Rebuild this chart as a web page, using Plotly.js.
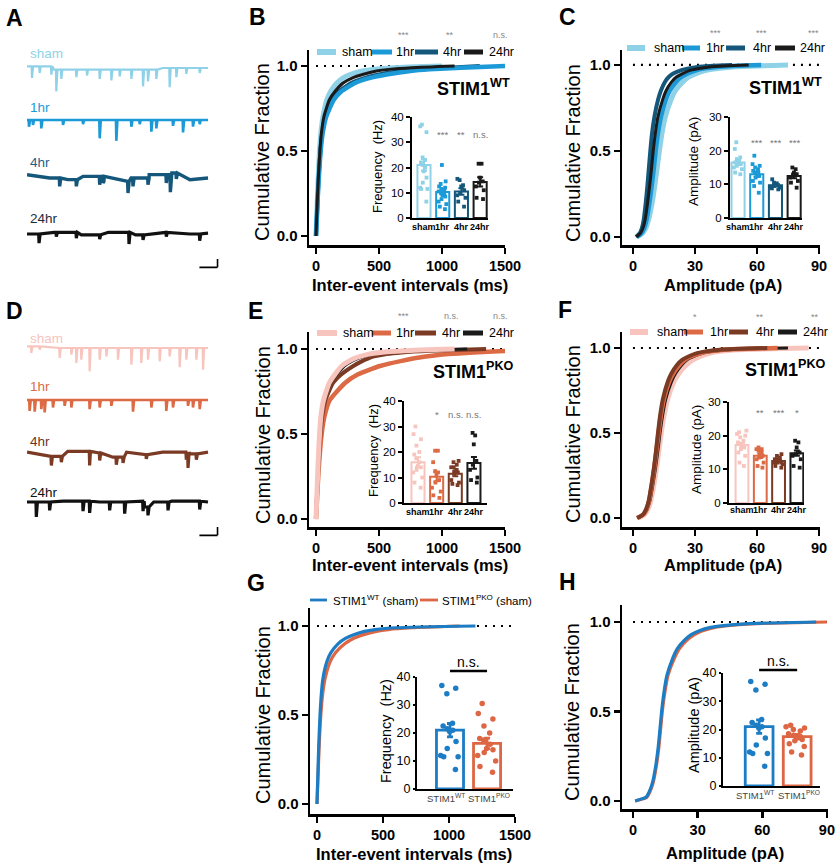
<!DOCTYPE html>
<html><head><meta charset="utf-8">
<script src="https://cdn.plot.ly/plotly-3.0.1.min.js"></script>
<style>html,body{margin:0;padding:0;background:#fff;}#chart{width:837px;height:865px;}</style>
</head><body><div id="chart"></div>
<script>
// ================= DATA =================
const groups = ['sham', '1hr', '4hr', '24hr'];
const cdfLevels = [0, 0.1, 0.2, 0.3, 0.4, 0.5, 0.6, 0.7, 0.8, 0.85, 0.9, 0.93, 0.95, 0.97, 0.98, 0.99, 1.0];
const ampLevels = [0, 0.02, 0.05, 0.1, 0.2, 0.3, 0.4, 0.5, 0.6, 0.7, 0.8, 0.85, 0.9, 0.93, 0.95, 0.97, 0.98, 0.99, 1.0];
const iviTicks = [0, 500, 1000, 1500];
const ampTicks = [0, 30, 60, 90];

// B: STIM1 WT inter-event intervals (ms) at cdfLevels
const wtIEI_sham = [0, 5, 10, 15, 21, 28, 38, 55, 85, 115, 165, 215, 270, 360, 450, 620, 1000];
const wtIEI_1hr  = [0, 6, 12, 19, 27, 37, 52, 80, 140, 200, 310, 430, 560, 750, 900, 1150, 1500];
const wtIEI_4hr  = [0, 6, 12, 18, 26, 35, 49, 74, 125, 180, 280, 390, 500, 680, 820, 1050, 1300];
const wtIEI_24hr = [0, 5, 10, 16, 23, 31, 42, 62, 105, 150, 215, 290, 370, 480, 580, 760, 1100];
// C: STIM1 WT amplitude (pA) at ampLevels
const wtAmp_sham = [2, 4.5, 6.2, 7.6, 9.3, 10.6, 11.7, 12.8, 14, 15.7, 18.5, 20.5, 24, 27, 30.5, 36, 41, 50, 75];
const wtAmp_1hr  = [1.8, 4, 5.4, 6.6, 8, 9.1, 10.1, 11, 12.1, 13.6, 16, 17.8, 20.8, 23.5, 26.5, 31, 35, 42, 62];
const wtAmp_4hr  = [1.5, 3.2, 4.3, 5.2, 6.2, 7, 7.7, 8.4, 9.2, 10.4, 12.2, 13.5, 15.4, 17.3, 19.5, 23.5, 27, 32, 48];
const wtAmp_24hr = [1.6, 3.5, 4.8, 5.9, 7.1, 8.1, 9, 9.8, 10.8, 12.1, 14.4, 16, 18.6, 21, 24, 28, 32, 38, 56];
// E: STIM1 PKO inter-event intervals (ms)
const pkoIEI_sham = [0, 5, 10, 15, 21, 28, 38, 60, 105, 150, 204, 265, 323, 420, 510, 700, 1100];
const pkoIEI_1hr  = [0, 7, 14, 22, 32, 45, 66, 110, 230, 330, 508, 680, 820, 1050, 1250, 1550, 2100];
const pkoIEI_4hr  = [0, 6, 12, 18, 26, 35, 48, 75, 135, 200, 296, 370, 430, 560, 680, 900, 1350];
const pkoIEI_24hr = [0, 5, 11, 16, 23, 30, 41, 64, 115, 165, 225, 290, 350, 450, 540, 740, 1200];
// F: STIM1 PKO amplitude (pA)
const pkoAmp_sham = [2.5, 5.5, 7.2, 8.6, 10.2, 11.5, 12.6, 13.7, 15, 16.8, 19.8, 22.2, 25.8, 29, 32.5, 37.5, 42, 50, 85];
const pkoAmp_1hr  = [2, 5, 6.5, 7.8, 9.2, 10.4, 11.4, 12.4, 13.5, 15, 17.5, 19.5, 22.5, 25, 28, 33, 37, 44, 70];
const pkoAmp_4hr  = [2, 4.8, 6.3, 7.6, 9, 10.2, 11.2, 12.1, 13.1, 14.5, 16.8, 18.6, 21.3, 23.8, 26.8, 31, 35, 42, 65];
const pkoAmp_24hr = [2.2, 5.2, 6.8, 8.2, 9.7, 11, 12.1, 13.1, 14.3, 15.9, 18.6, 20.6, 23.6, 26.2, 29.5, 34, 39, 46, 75];
// G / H: sham comparison
const gIEI_WT  = [0, 4, 8, 12, 17, 23, 31, 44, 75, 105, 159, 215, 273, 360, 440, 600, 1200];
const gIEI_PKO = [0, 5, 10, 15, 21, 29, 40, 60, 100, 140, 210, 275, 348, 450, 540, 720, 1080];
const hAmp_WT  = [1, 6, 7.5, 9, 10.6, 11.7, 12.5, 13.3, 14.3, 15.7, 18.5, 20.5, 24, 27, 30.5, 36, 42, 52, 85];
const hAmp_PKO = [1, 6.3, 7.8, 9.3, 10.9, 12, 12.8, 13.6, 14.7, 16.2, 19.3, 21.5, 25.2, 28.5, 32, 38, 44, 55, 90];

// Insets: means, SEM, individual cells
const wtFreqMean = [21, 10.3, 10.5, 14.3];
const wtFreqSem  = [2.3, 1.0, 1.3, 1.8];
const wtFreq_sham = [37, 36.3, 34, 24, 23, 22, 21, 20, 18.5, 16, 14, 12, 11.5, 11.5, 6.5];
const wtFreq_1hr  = [21, 14.5, 13.5, 12.5, 12, 11.5, 11, 10.5, 10, 9.5, 9, 8.5, 7.5, 6.5, 5.5, 4.5, 3.5];
const wtFreq_4hr  = [15.5, 15, 13, 12.5, 11, 10, 9, 8, 6.5, 4.5];
const wtFreq_24hr = [21.5, 21.5, 16, 14.5, 14, 12.5, 11, 8, 7.5];

const wtAmpMean = [16.5, 13, 9.7, 12.5];
const wtAmpSem  = [0.7, 0.8, 0.3, 0.7];
const wtAmpPts_sham = [22.5, 20.5, 18, 17.5, 17, 16.5, 16.5, 16, 16, 15.5, 15, 14.5, 13.5, 13, 16];
const wtAmpPts_1hr  = [18.5, 16, 15.5, 15, 14.5, 14, 13.5, 13.5, 13, 12.5, 12, 11, 10.5, 9.5, 7.5];
const wtAmpPts_4hr  = [11.5, 10.5, 10.3, 10, 9.8, 9.5, 9.3, 9, 8.8, 8.5];
const wtAmpPts_24hr = [15, 14.5, 13.5, 13, 12.5, 12, 11, 10.5, 9];

const pkoFreqMean = [16, 10.3, 11.5, 15.7];
const pkoFreqSem  = [1.9, 1.8, 1.0, 2.3];
const pkoFreq_sham = [30, 27, 25, 22.5, 20, 19, 17.5, 16, 14.5, 14, 13, 12, 10, 8, 6];
const pkoFreq_1hr  = [20.5, 20.5, 16, 12.5, 12, 11, 9, 8, 6, 4.5, 3, 2];
const pkoFreq_4hr  = [16.5, 16, 15, 14, 14, 13, 12.5, 12, 11.5, 9, 8, 7.5, 7];
const pkoFreq_24hr = [27.5, 26.5, 23, 16.5, 15, 13, 10, 9, 8];

const pkoAmpMean = [17.2, 14, 12.5, 14.8];
const pkoAmpSem  = [0.7, 0.6, 0.4, 0.8];
const pkoAmpPts_sham = [21.5, 21, 20.5, 20, 19.5, 18.5, 18, 17.5, 17, 16.5, 16, 15, 14, 12, 11, 17];
const pkoAmpPts_1hr  = [16.5, 16, 15.5, 15, 14, 13.5, 13, 12, 11, 10.5, 16, 14.5];
const pkoAmpPts_4hr  = [14.5, 14, 13.5, 13, 12.5, 12.5, 12, 12, 11.5, 11, 10.5, 13, 12];
const pkoAmpPts_24hr = [18.5, 18, 16.5, 15, 14.5, 14, 13, 11, 10.5];

const genotypes = ['WT', 'PKO'];
const genotypeLabels = ['STIM1<sup>WT</sup>', 'STIM1<sup>PKO</sup>'];
const gFreqMean = [21, 16.3];
const gFreqSem  = [2.4, 1.9];
const gFreqPts_WT  = [37, 36, 34, 23.5, 22.5, 21.5, 21, 20.5, 17, 14.5, 12, 11.5, 11.5, 7];
const gFreqPts_PKO = [30.5, 27, 25, 22.5, 20, 18, 17.5, 16, 14, 13, 12, 10, 8, 6, 14.5];
const hAmpMean = [21, 17.5];
const hAmpSem  = [2.4, 0.8];
const hAmpPts_WT  = [37, 36, 34, 23.5, 22.5, 21.5, 21, 20.5, 17, 14.5, 12, 11.5, 11.5, 7];
const hAmpPts_PKO = [21.5, 21, 20.5, 20, 19.5, 18.5, 18, 17.5, 17, 16.5, 16, 15, 14, 12, 11];

// Example traces: event times (ms), event amplitudes (pA), baseline knots
const trA_sham_t = [55, 140, 269, 324, 379, 545, 663, 803, 932, 1024, 1153, 1282, 1337, 1429, 1576, 1650, 1760, 1908];
const trA_sham_a = [-14, -8, -10, -26, -11, -9, -7, -11, -13, -8, -11, -20, -14, -11, -23, -11, -7, -6];
const trA_sham_bt = [0, 250, 300, 1100, 1500, 2000];
const trA_sham_bv = [2, 2, -2, -2, 0, 0];
const trA_1hr_t = [22, 66, 158, 398, 619, 803, 987, 1153, 1245, 1374, 1429, 1613, 1724, 1834, 1908];
const trA_1hr_a = [-8, -6, -10, -6, -5, -22, -25, -8, -5, -14, -10, -7, -15, -8, -5];
const trA_1hr_bt = [0, 2000];
const trA_1hr_bv = [0, 0];
const trA_4hr_t = [361, 545, 803, 840, 1116, 1171, 1337, 1539, 1584, 1650];
const trA_4hr_a = [-10, -8, -10, -8, -14, -10, -8, -10, -21, -7];
const trA_4hr_bt = [0, 250, 450, 620, 850, 1150, 1350, 1600, 1800, 2000];
const trA_4hr_bv = [4, 0, -2, 2, -4, 0, 4, 6, -2, 0];
const trA_24hr_t = [133, 324, 545, 803, 1127, 1282, 1539, 1908];
const trA_24hr_a = [-11, -5, -7, -5, -14, -6, -5, -8];
const trA_24hr_bt = [0, 300, 600, 900, 1200, 1500, 1800, 2000];
const trA_24hr_bv = [0, 2, -1, 2, -1, 2, 0, 1];

const trD_sham_t = [48, 140, 361, 490, 545, 600, 692, 803, 877, 1005, 1153, 1263, 1337, 1466, 1576, 1687, 1760, 1871, 1945];
const trD_sham_a = [-8, -4, -12, -8, -18, -14, -28, -14, -10, -14, -20, -18, -14, -16, -10, -23, -14, -14, -26];
const trD_sham_bt = [0, 300, 2000];
const trD_sham_bv = [2, 0, 0];
const trD_1hr_t = [29, 85, 158, 195, 287, 416, 490, 692, 803, 932, 1171, 1374, 1539, 1613, 1779, 1834, 1908];
const trD_1hr_a = [-13, -14, -11, -15, -9, -7, -9, -11, -9, -7, -14, -9, -13, -9, -7, -9, -11];
const trD_1hr_bt = [0, 2000];
const trD_1hr_bv = [0, 0];
const trD_4hr_t = [269, 379, 692, 803, 987, 1061, 1318, 1760, 1779, 1871];
const trD_4hr_a = [-11, -7, -17, -9, -9, -7, -5, -9, -19, -7];
const trD_4hr_bt = [0, 250, 450, 700, 950, 1100, 1300, 1500, 1800, 2000];
const trD_4hr_bv = [1, -4, 2, 0, -5, 1, -2, 1, -1, 1];
const trD_24hr_t = [103, 250, 619, 692, 913, 1079, 1282, 1337, 1558, 1908];
const trD_24hr_a = [-18, -10, -12, -14, -10, -14, -12, -10, -10, -10];
const trD_24hr_bt = [0, 400, 800, 1200, 1300, 1400, 1600, 2000];
const trD_24hr_bv = [0, 1, 0, 1, -6, 0, 1, 0];

const scaleBarMs = 200;
const scaleBarPA = 10;

// ================= STYLE / LAYOUT =================
const W = 837, H = 865;
const fx = p => p / W;
const fy = p => 1 - p / H;
const FONT = 'Liberation Sans, Arial, sans-serif';
const C = {
  wt: ['#8fd2e8', '#1b9ad7', '#14577b', '#1a1a1a'],
  pko: ['#f7c5bd', '#dc6a44', '#7b3a24', '#1a1a1a'],
  gWT: '#1c7cc4', gPKO: '#dd6644'
};

const data = [];
const annotations = [];
const shapes = [];
const layout = {
  width: W, height: H, margin: {l: 0, r: 0, t: 0, b: 0},
  showlegend: false, paper_bgcolor: '#fff', plot_bgcolor: 'rgba(0,0,0,0)',
  barmode: 'overlay', boxmode: 'overlay',
  font: {family: FONT, color: '#000'},
  annotations: annotations, shapes: shapes
};
let axN = 0;
function addAxes(xcfg, ycfg) {
  axN++;
  const s = axN === 1 ? '' : String(axN);
  layout['xaxis' + s] = Object.assign({anchor: 'y' + s, fixedrange: true}, xcfg);
  layout['yaxis' + s] = Object.assign({anchor: 'x' + s, fixedrange: true}, ycfg);
  return {x: 'x' + s, y: 'y' + s};
}
function text(t, px, py, size, opts) {
  annotations.push(Object.assign({
    text: t, xref: 'paper', yref: 'paper', x: fx(px), y: fy(py), showarrow: false,
    xanchor: 'center', yanchor: 'middle', font: {family: FONT, size: size, color: '#000'}
  }, opts || {}));
}

function cdfPanel(p) {
  const ax = addAxes({
    domain: [fx(p.xpx[0]), fx(p.xpx[1])], range: p.xrange, showline: true, linewidth: 2.5, linecolor: '#000',
    ticks: 'outside', ticklen: 6, tickwidth: 2.5, tickcolor: '#000', showgrid: false, zeroline: false, tickangle: 0,
    tickvals: p.xtick, ticktext: p.xtick.map(String), tickfont: {family: FONT, size: 14.5, weight: 'bold', color: '#000'}
  }, {
    domain: [fy(p.ypx[1]), fy(p.ypx[0])], range: p.yrange, showline: true, linewidth: 2.5, linecolor: '#000',
    ticks: 'outside', ticklen: 6, tickwidth: 2.5, tickcolor: '#000', showgrid: false, zeroline: false,
    tickvals: [0, 0.5, 1], ticktext: ['0.0', '0.5', '1.0'], tickfont: {family: FONT, size: 15, weight: 'bold', color: '#000'}
  });
  data.push({type: 'scatter', mode: 'lines', x: [p.xtick[0], p.xtick[p.xtick.length - 1]], y: [1, 1],
    xaxis: ax.x, yaxis: ax.y, line: {color: '#000', width: 2.2, dash: '2px,6px'}, hoverinfo: 'skip'});
  p.series.forEach(s => data.push({type: 'scatter', mode: 'lines', x: s.x, y: p.levels,
    xaxis: ax.x, yaxis: ax.y, line: {color: s.color, width: s.width, shape: 'spline', smoothing: 0.5}, hoverinfo: 'skip'}));
  return ax;
}

function insetPanel(p) {
  const ax = addAxes({
    domain: [fx(p.xpx[0]), fx(p.xpx[1])], type: 'category', categoryorder: 'array', categoryarray: p.cats,
    range: p.xrange, showline: true, linewidth: 2, linecolor: '#000', ticks: '', showgrid: false, zeroline: false,
    showticklabels: false
  }, {
    domain: [fy(p.ypx[1]), fy(p.ypx[0])], range: [0, p.ytick[p.ytick.length - 1]], showline: true, linewidth: 2,
    linecolor: '#000', ticks: 'outside', ticklen: p.ticklen, tickwidth: 2, tickcolor: '#000', showgrid: false, zeroline: false,
    tickvals: p.ytick, tickfont: {family: FONT, size: p.tickSize, color: '#000'}
  });
  // category labels, positioned through the category axis
  p.catText.forEach((t, i) => {
    annotations.push({text: t, xref: ax.x, yref: 'paper', x: i + (p.catShift ? p.catShift[i] : 0), y: fy(p.catY),
      showarrow: false, xanchor: 'center', yanchor: 'middle',
      font: {family: FONT, size: p.catSize, weight: p.catWeight, color: p.catColor}});
  });
  p.cats.forEach((c, i) => {
    data.push({type: 'bar', x: [c], y: [p.means[i]], width: p.barWidth, xaxis: ax.x, yaxis: ax.y, textposition: 'none',
      marker: {color: '#ffffff', line: {color: p.colors[i], width: p.barLine}},
      error_y: {type: 'data', array: [p.sems[i]], visible: true, color: p.colors[i], thickness: p.barLine, width: 3},
      hoverinfo: 'skip'});
  });
  p.cats.forEach((c, i) => {
    data.push({type: 'box', x: p.pts[i].map(() => c), y: p.pts[i], xaxis: ax.x, yaxis: ax.y,
      boxpoints: 'all', jitter: p.jitter, pointpos: 0, width: p.barWidth,
      marker: {color: p.colors[i], size: p.msize, symbol: p.symbol},
      line: {width: 0, color: 'rgba(0,0,0,0)'}, fillcolor: 'rgba(0,0,0,0)', hoverinfo: 'skip'});
  });
  if (p.stars) {
    p.stars.forEach((s, i) => {
      if (!s) return;
      annotations.push({text: s, xref: ax.x, yref: 'paper', x: i, y: fy(p.starY), showarrow: false,
        xanchor: 'center', yanchor: 'middle', font: {family: FONT, size: 9.5, color: '#777'}});
    });
  }
  if (p.bracketY) {
    shapes.push({type: 'line', xref: ax.x, yref: 'paper', x0: 0, x1: 1, y0: fy(p.bracketY), y1: fy(p.bracketY),
      line: {color: '#000', width: 2.5}});
    annotations.push({text: 'n.s.', xref: ax.x, yref: 'paper', x: 0.5, y: fy(p.bracketY - 9), showarrow: false,
      xanchor: 'center', yanchor: 'middle', font: {family: FONT, size: 14, color: '#000'}});
  }
  return ax;
}

function buildTrace(t, a, bt, bv) {
  const pts = [];
  bt.forEach((tt, i) => pts.push([tt, bv[i]]));
  t.forEach((tt, i) => {
    let b = bv[0];
    for (let k = 0; k < bt.length; k++) { if (bt[k] <= tt) b = bv[k]; }
    pts.push([tt - 4, b], [tt, b + a[i]], [tt + 12, b]);
  });
  pts.sort((p, q) => p[0] - q[0]);
  return {x: pts.map(p => p[0]), y: pts.map(p => p[1])};
}
const PX_PER_PA = 0.8333;
function traceAxis(basePx, tr, color, width, withScale) {
  const ax = addAxes({domain: [fx(27), fx(221.6)], range: [0, 2150], visible: false},
    {domain: [fy(basePx + 50 * PX_PER_PA), fy(basePx - 10 * PX_PER_PA)], range: [-50, 10], visible: false});
  data.push({type: 'scatter', mode: 'lines', x: tr.x, y: tr.y, xaxis: ax.x, yaxis: ax.y,
    line: {color: color, width: width}, hoverinfo: 'skip'});
  if (withScale) {
    data.push({type: 'scatter', mode: 'lines', x: [1905, 1905 + scaleBarMs], y: [-40, -40], xaxis: ax.x, yaxis: ax.y,
      line: {color: '#000', width: 1.6}, hoverinfo: 'skip'});
    data.push({type: 'scatter', mode: 'lines', x: [1905 + scaleBarMs, 1905 + scaleBarMs], y: [-40, -40 + scaleBarPA],
      xaxis: ax.x, yaxis: ax.y, line: {color: '#000', width: 1.6}, hoverinfo: 'skip'});
  }
}

// ---------- Panels A & D: traces ----------
traceAxis(68, buildTrace(trA_sham_t, trA_sham_a, trA_sham_bt, trA_sham_bv), C.wt[0], 2.2);
traceAxis(120, buildTrace(trA_1hr_t, trA_1hr_a, trA_1hr_bt, trA_1hr_bv), C.wt[1], 2.6);
traceAxis(178, buildTrace(trA_4hr_t, trA_4hr_a, trA_4hr_bt, trA_4hr_bv), C.wt[2], 3.4);
traceAxis(234, buildTrace(trA_24hr_t, trA_24hr_a, trA_24hr_bt, trA_24hr_bv), '#111', 3.2, true);
traceAxis(348, buildTrace(trD_sham_t, trD_sham_a, trD_sham_bt, trD_sham_bv), C.pko[0], 2.2);
traceAxis(400, buildTrace(trD_1hr_t, trD_1hr_a, trD_1hr_bt, trD_1hr_bv), C.pko[1], 2.6);
traceAxis(453, buildTrace(trD_4hr_t, trD_4hr_a, trD_4hr_bt, trD_4hr_bv), C.pko[2], 3.2);
traceAxis(502, buildTrace(trD_24hr_t, trD_24hr_a, trD_24hr_bt, trD_24hr_bv), '#111', 3.2, true);

const traceLabelColorsA = [C.wt[0], C.wt[1], '#1d5f8a', '#1d2b3a'];
const traceLabelColorsD = [C.pko[0], C.pko[1], '#6b3322', '#111'];
[53, 107, 163, 218].forEach((py, i) => text(groups[i], 28, py, 13.5, {xanchor: 'left', font: {family: FONT, size: 13.5, color: traceLabelColorsA[i]}}));
[338, 387, 442, 492].forEach((py, i) => text(groups[i], 28, py, 13.5, {xanchor: 'left', font: {family: FONT, size: 13.5, color: traceLabelColorsD[i]}}));

// ---------- CDF panels ----------
cdfPanel({xpx: [309, 505], ypx: [50, 245], xrange: [-55.6, 1500], yrange: [-0.053, 1.094], xtick: iviTicks, levels: cdfLevels,
  series: [{x: wtIEI_sham, color: C.wt[0], width: 5}, {x: wtIEI_4hr, color: C.wt[2], width: 4}, {x: wtIEI_1hr, color: C.wt[1], width: 4.5}, {x: wtIEI_24hr, color: C.wt[3], width: 3}]});
cdfPanel({xpx: [622, 820], ypx: [50, 245], xrange: [-5.3, 90.5], yrange: [-0.047, 1.087], xtick: ampTicks, levels: ampLevels,
  series: [{x: wtAmp_sham, color: C.wt[0], width: 5}, {x: wtAmp_1hr, color: C.wt[1], width: 4.5}, {x: wtAmp_4hr, color: C.wt[2], width: 4}, {x: wtAmp_24hr, color: C.wt[3], width: 3}]});
cdfPanel({xpx: [309, 505], ypx: [332, 527], xrange: [-55.6, 1500], yrange: [-0.047, 1.1], xtick: iviTicks, levels: cdfLevels,
  series: [{x: pkoIEI_1hr, color: C.pko[1], width: 4.5}, {x: pkoIEI_4hr, color: C.pko[2], width: 4}, {x: pkoIEI_24hr, color: C.pko[3], width: 3}, {x: pkoIEI_sham, color: C.pko[0], width: 5}]});
cdfPanel({xpx: [622, 820], ypx: [332, 527], xrange: [-5.3, 90.5], yrange: [-0.053, 1.094], xtick: ampTicks, levels: ampLevels,
  series: [{x: pkoAmp_sham, color: C.pko[0], width: 5}, {x: pkoAmp_24hr, color: C.pko[3], width: 3}, {x: pkoAmp_1hr, color: C.pko[1], width: 4.5}, {x: pkoAmp_4hr, color: C.pko[2], width: 4}]});
cdfPanel({xpx: [310, 515], ypx: [608, 814], xrange: [-53, 1500], yrange: [-0.056, 1.101], xtick: iviTicks, levels: cdfLevels,
  series: [{x: gIEI_PKO, color: C.gPKO, width: 3.2}, {x: gIEI_WT, color: C.gWT, width: 3.2}]});
cdfPanel({xpx: [622, 828], ypx: [605, 809], xrange: [-5.1, 90.5], yrange: [-0.045, 1.095], xtick: ampTicks, levels: ampLevels,
  series: [{x: hAmp_PKO, color: C.gPKO, width: 3.2}, {x: hAmp_WT, color: C.gWT, width: 3.2}]});

// ---------- Insets ----------
const insetCommon = {cats: groups, catText: groups, catSize: 9, catWeight: 'bold', catColor: '#000', tickSize: 11.5, ticklen: 4,
  barWidth: 0.7, barLine: 2, jitter: 0.85, msize: 3.8, symbol: 'square'};
insetPanel(Object.assign({}, insetCommon, {xpx: [412, 488], ypx: [117, 218], xrange: [-0.64, 3.42], ytick: [0, 10, 20, 30, 40],
  means: wtFreqMean, sems: wtFreqSem, colors: C.wt, pts: [wtFreq_sham, wtFreq_1hr, wtFreq_4hr, wtFreq_24hr],
  stars: ['', '***', '**', 'n.s.'], starY: 134, catY: 227}));
insetPanel(Object.assign({}, insetCommon, {xpx: [730, 802], ypx: [117, 218], xrange: [-0.43, 3.42], ytick: [0, 10, 20, 30],
  means: wtAmpMean, sems: wtAmpSem, colors: C.wt, pts: [wtAmpPts_sham, wtAmpPts_1hr, wtAmpPts_4hr, wtAmpPts_24hr],
  stars: ['', '***', '***', '***'], starY: 143, catY: 227}));
insetPanel(Object.assign({}, insetCommon, {xpx: [404, 487], ypx: [401, 503], xrange: [-0.75, 3.7], ytick: [0, 10, 20, 30, 40],
  means: pkoFreqMean, sems: pkoFreqSem, colors: C.pko, pts: [pkoFreq_sham, pkoFreq_1hr, pkoFreq_4hr, pkoFreq_24hr],
  stars: ['', '*', 'n.s.', 'n.s.'], starY: 414, catY: 512}));
insetPanel(Object.assign({}, insetCommon, {xpx: [729, 804], ypx: [402, 503], xrange: [-0.71, 3.39], ytick: [0, 10, 20, 30],
  means: pkoAmpMean, sems: pkoAmpSem, colors: C.pko, pts: [pkoAmpPts_sham, pkoAmpPts_1hr, pkoAmpPts_4hr, pkoAmpPts_24hr],
  stars: ['', '**', '***', '*'], starY: 412, catY: 510}));
const insetG = {cats: genotypes, catText: genotypeLabels, catSize: 9.5, catWeight: 'normal', catColor: '#444', tickSize: 12.5, ticklen: 2,
  barWidth: 0.73, barLine: 2.8, jitter: 0.85, msize: 5.5, symbol: 'circle', catShift: [-0.1, 0.05]};
insetPanel(Object.assign({}, insetG, {xpx: [417, 513], ypx: [677, 789], xrange: [-0.89, 1.7], ytick: [0, 10, 20, 30, 40],
  means: gFreqMean, sems: gFreqSem, colors: [C.gWT, C.gPKO], pts: [gFreqPts_WT, gFreqPts_PKO], bracketY: 671, catY: 798}));
insetPanel(Object.assign({}, insetG, {xpx: [723, 820], ypx: [673, 786], xrange: [-0.95, 1.6], ytick: [0, 10, 20, 30, 40],
  means: hAmpMean, sems: hAmpSem, colors: [C.gWT, C.gPKO], pts: [hAmpPts_WT, hAmpPts_PKO], bracketY: 670, catY: 795}));

// ---------- Text ----------
[['A', 14, 18], ['B', 257, 17], ['C', 567, 17], ['D', 14, 311], ['E', 255, 311], ['F', 565, 310], ['G', 256, 583], ['H', 567, 582]]
  .forEach(l => text('<b>' + l[0] + '</b>', l[1], l[2], 23));
[[262, 152], [573, 153], [263, 435], [573, 434], [263, 715], [572, 712]]
  .forEach(p => text('Cumulative Fraction', p[0], p[1], 20, {textangle: -90}));
[['Inter-event intervals (ms)', 410, 285], ['Amplitude (pA)', 723, 285], ['Inter-event intervals (ms)', 410, 565],
 ['Amplitude (pA)', 723, 565], ['Inter-event intervals (ms)', 414, 854], ['Amplitude (pA)', 725, 853]]
  .forEach(p => text('<b>' + p[0] + '</b>', p[1], p[2], 16.5));
[['STIM1<sup>WT</sup>', 473, 88], ['STIM1<sup>WT</sup>', 785, 86], ['STIM1<sup>PKO</sup>', 473, 370], ['STIM1<sup>PKO</sup>', 785, 368]]
  .forEach(p => text('<b>' + p[0] + '</b>', p[1], p[2], 18));
[['Frequency  (Hz)', 378, 167, 13], ['Amplitude (pA)', 693, 162, 13.5], ['Frequency  (Hz)', 373, 451, 13],
 ['Amplitude (pA)', 697, 450, 13.5], ['Frequency  (Hz)', 386, 731, 14.5], ['Amplitude (pA)', 694, 725, 14.5]]
  .forEach(p => text(p[0], p[1], p[2], p[3], {textangle: -90}));

// significance above legends
function stars(list, py) { list.forEach(s => text(s[0], s[1], py, 9, {font: {family: FONT, size: 9, color: '#888'}})); }
stars([['***', 403], ['**', 450], ['n.s.', 500]], 35);
stars([['***', 715], ['***', 761], ['***', 813]], 33);
stars([['***', 403], ['n.s.', 451], ['n.s.', 500]], 316);
stars([['*', 695], ['**', 760], ['**', 815]], 317);

// legends (key lines + labels)
function legend(py, items, size, lw) {
  items.forEach(it => {
    shapes.push({type: 'line', xref: 'paper', yref: 'paper', x0: fx(it.x0), x1: fx(it.x1), y0: fy(py), y1: fy(py),
      line: {color: it.color, width: it.w || lw}});
    text(it.label, it.tx, py, size, {xanchor: 'left'});
  });
}
legend(52, [{x0: 317, x1: 336, tx: 340, label: 'sham', color: C.wt[0], w: 6}, {x0: 372, x1: 392, tx: 394, label: '1hr', color: C.wt[1]},
  {x0: 415, x1: 438, tx: 441, label: '4hr', color: C.wt[2]}, {x0: 464, x1: 483, tx: 487, label: '24hr', color: C.wt[3]}], 12.5, 5);
legend(48, [{x0: 627, x1: 645, tx: 652, label: 'sham', color: C.wt[0], w: 6}, {x0: 682, x1: 700, tx: 704, label: '1hr', color: C.wt[1]},
  {x0: 726, x1: 745, tx: 751, label: '4hr', color: C.wt[2]}, {x0: 775, x1: 795, tx: 798, label: '24hr', color: C.wt[3]}], 12.5, 5);
legend(333, [{x0: 317, x1: 337, tx: 341, label: 'sham', color: C.pko[0], w: 6}, {x0: 372, x1: 391, tx: 394, label: '1hr', color: C.pko[1]},
  {x0: 415, x1: 436, tx: 440, label: '4hr', color: C.pko[2]}, {x0: 463, x1: 483, tx: 487, label: '24hr', color: C.pko[3]}], 12.5, 5);
legend(332, [{x0: 630, x1: 648, tx: 655, label: 'sham', color: C.pko[0], w: 6}, {x0: 684, x1: 703, tx: 708, label: '1hr', color: C.pko[1]},
  {x0: 729, x1: 748, tx: 754, label: '4hr', color: C.pko[2]}, {x0: 778, x1: 797, tx: 801, label: '24hr', color: C.pko[3]}], 12.5, 5);
legend(600, [{x0: 310, x1: 327, tx: 331, label: 'STIM1<sup>WT</sup> (sham)', color: C.gWT},
  {x0: 420, x1: 438, tx: 440, label: 'STIM1<sup>PKO</sup> (sham)', color: C.gPKO}], 11.5, 2.8);

Plotly.newPlot('chart', data, layout, {displayModeBar: false, staticPlot: true});
</script>
</body></html>
